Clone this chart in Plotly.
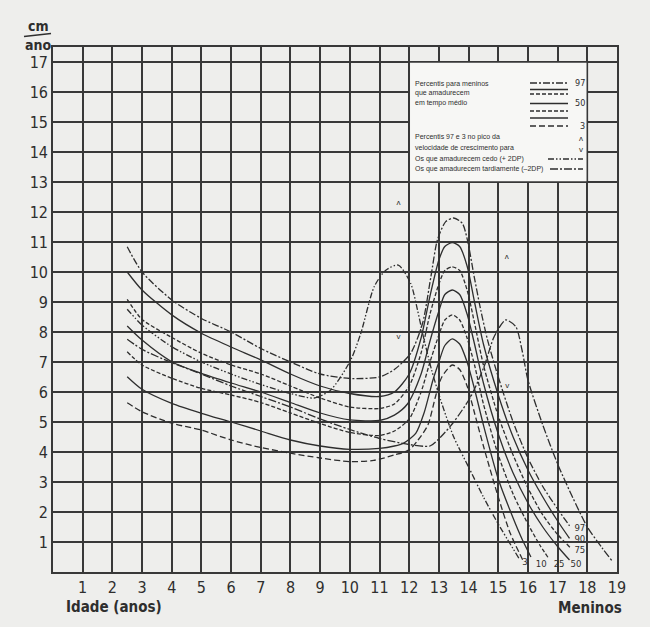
import plotly.graph_objects as go

# ---------------- data ----------------
age_ticks = list(range(1, 20))
vel_ticks = list(range(1, 18))

p97_x = [2.5, 3, 4, 5, 6, 7, 8, 9, 10, 11, 11.5, 12.05, 12.45, 12.73, 12.95, 13.23, 13.5, 13.79, 13.96, 14.19, 14.41, 14.64, 15.0, 15.5, 16.0, 16.5, 17.0, 17.4]
p97_y = [10.84, 10.0, 9.07, 8.45, 8.0, 7.45, 7.0, 6.6, 6.45, 6.5, 6.75, 7.29, 8.29, 9.84, 11.07, 11.68, 11.8, 11.62, 11.07, 9.84, 8.73, 7.73, 6.5, 5.0, 3.8, 2.85, 2.1, 1.54]

p90_x = [2.5, 3, 4, 5, 6, 7, 8, 9, 10, 11, 11.5, 12.0, 12.4, 12.7, 13.0, 13.2, 13.45, 13.7, 13.95, 14.2, 14.5, 15.0, 15.5, 16.0, 16.5, 17.0, 17.4]
p90_y = [10.0, 9.4, 8.57, 7.96, 7.5, 7.07, 6.6, 6.2, 5.95, 5.85, 6.0, 6.6, 7.8, 9.2, 10.4, 10.85, 10.98, 10.85, 10.2, 9.0, 7.6, 5.9, 4.5, 3.4, 2.5, 1.7, 1.12]

p75_x = [2.5, 3, 4, 5, 6, 7, 8, 9, 10, 11, 11.5, 12.0, 12.4, 12.7, 13.0, 13.2, 13.45, 13.7, 13.95, 14.2, 14.5, 15.0, 15.5, 16.0, 16.5, 17.0, 17.44]
p75_y = [9.09, 8.42, 7.82, 7.29, 6.9, 6.6, 6.2, 5.8, 5.5, 5.45, 5.6, 6.2, 7.3, 8.6, 9.6, 10.05, 10.17, 10.05, 9.4, 8.3, 6.9, 5.2, 3.9, 2.8, 1.9, 1.25, 0.8]

p50_x = [2.5, 3, 4, 5, 6, 7, 8, 9, 10, 11, 11.5, 11.94, 12.4, 12.7, 13.0, 13.2, 13.45, 13.7, 13.95, 14.2, 14.5, 15.0, 15.5, 16.0, 16.5, 17.0, 17.4]
p50_y = [8.2, 7.73, 7.01, 6.62, 6.3, 6.0, 5.65, 5.3, 5.07, 5.05, 5.23, 5.6, 6.6, 7.7, 8.7, 9.25, 9.4, 9.25, 8.6, 7.6, 6.3, 4.6, 3.3, 2.3, 1.5, 0.85, 0.4]

p25_x = [2.5, 3, 4, 5, 6, 7, 8, 9, 10, 11, 11.5, 12.0, 12.4, 12.7, 13.0, 13.2, 13.45, 13.7, 13.95, 14.2, 14.5, 15.0, 15.5, 16.0, 16.4, 16.7]
p25_y = [7.34, 6.9, 6.46, 6.12, 5.9, 5.65, 5.3, 4.95, 4.65, 4.55, 4.7, 5.1, 6.0, 7.0, 7.9, 8.4, 8.57, 8.4, 7.8, 6.9, 5.6, 3.9, 2.6, 1.6, 0.9, 0.45]

p10_x = [2.5, 3, 4, 5, 6, 7, 8, 9, 10, 11, 11.5, 11.8, 12.22, 12.5, 12.8, 13.0, 13.2, 13.45, 13.7, 13.95, 14.2, 14.5, 15.0, 15.5, 15.8, 16.1]
p10_y = [6.51, 6.09, 5.62, 5.29, 5.0, 4.7, 4.4, 4.2, 4.09, 4.12, 4.2, 4.29, 4.62, 5.3, 6.4, 7.0, 7.55, 7.77, 7.6, 7.0, 6.1, 4.9, 3.1, 1.8, 1.1, 0.5]

p3_x = [2.5, 3, 4, 5, 6, 7, 8, 9, 10, 10.8, 11.5, 12.0, 12.3, 12.63, 12.9, 13.1, 13.45, 13.7, 13.95, 14.2, 14.5, 15.0, 15.4, 15.85]
p3_y = [5.64, 5.34, 4.96, 4.73, 4.4, 4.15, 3.96, 3.8, 3.68, 3.72, 3.9, 4.07, 4.4, 4.9, 5.9, 6.5, 6.9, 6.75, 6.2, 5.3, 4.2, 2.5, 1.3, 0.35]

early_x = [2.5, 3, 4, 5, 6, 7, 8, 8.8, 9.36, 10.03, 10.37, 10.82, 11.2, 11.63, 12.05, 12.28, 12.45, 12.75, 13.06, 13.5, 14.0, 14.5, 15.0, 15.7]
early_y = [8.76, 8.23, 7.51, 7.0, 6.6, 6.25, 5.95, 5.8, 6.07, 7.07, 7.96, 9.51, 10.05, 10.23, 9.62, 8.73, 7.96, 6.75, 5.73, 4.5, 3.5, 2.5, 1.6, 0.45]

late_x = [2.5, 3, 4, 5, 6, 7, 8, 9, 10, 11, 12.0, 12.7, 13.06, 13.5, 14.07, 14.52, 14.86, 15.25, 15.59, 15.8, 16.0, 16.5, 17.0, 17.5, 18.0, 18.5, 18.85]
late_y = [7.76, 7.42, 6.98, 6.6, 6.2, 5.85, 5.5, 5.1, 4.75, 4.45, 4.25, 4.2, 4.5, 5.0, 5.84, 6.84, 7.84, 8.4, 8.18, 7.4, 6.4, 4.9, 3.6, 2.5, 1.5, 0.8, 0.35]

# peak-velocity markers (97th "ʌ" and 3rd "v") for early / late maturers
mark_x = [11.64, 15.29, 11.64, 15.3]
mark_y = [12.3, 10.5, 7.85, 6.2]
mark_t = ["ʌ", "ʌ", "v", "v"]

# percentile end labels
end_lab = ["97", "90", "75", "50", "25", "10", "3"]
end_x = [17.75, 17.75, 17.75, 17.62, 17.05, 16.45, 15.9]
end_y = [1.45, 1.08, 0.7, 0.23, 0.23, 0.23, 0.3]

# ---------------- styles ----------------
INK = "#2e2e2e"
BG = "#eeeeec"
NARROW = "Liberation Sans Narrow, DejaVu Sans Condensed, Arial Narrow, sans-serif"
D_97 = "7px,2px,2px,2px"
D_DASH = "4px,2px"
D_3 = "6px,3px"
D_EARLY = "6px,2px,1.5px,2px,1.5px,2px"
D_LATE = "8px,2px,2px,2px"

series = [
    (p97_x, p97_y, D_97, "97"),
    (p90_x, p90_y, "solid", "90"),
    (p75_x, p75_y, D_DASH, "75"),
    (p50_x, p50_y, "solid", "50"),
    (p25_x, p25_y, D_DASH, "25"),
    (p10_x, p10_y, "solid", "10"),
    (p3_x, p3_y, D_3, "3"),
    (early_x, early_y, D_EARLY, "cedo"),
    (late_x, late_y, D_LATE, "tarde"),
]

fig = go.Figure()
for xs, ys, dash, name in series:
    fig.add_trace(go.Scatter(
        x=xs, y=ys, mode="lines", name=name, showlegend=False,
        line=dict(color=INK, width=1.3, dash=dash, shape="spline", smoothing=0.7),
        hoverinfo="skip"))

fig.add_trace(go.Scatter(
    x=mark_x, y=mark_y, mode="text", text=mark_t, showlegend=False,
    textfont=dict(size=8, color=INK, family="Liberation Sans, sans-serif"), hoverinfo="skip"))

fig.add_trace(go.Scatter(
    x=end_x, y=end_y, mode="text", text=end_lab, showlegend=False,
    textfont=dict(size=9.5, color=INK, family=NARROW), hoverinfo="skip"))

# ---------------- layout ----------------
W, H = 650, 627
L, R, T, B = 53, 617, 47, 572

def px(xp):
    return (xp - L) / (R - L)

def py(yp):
    return (B - yp) / (B - T)

fig.update_layout(
    width=W, height=H,
    margin=dict(l=L, r=W - R, t=T, b=H - B),
    paper_bgcolor=BG, plot_bgcolor=BG,
    font=dict(family=NARROW, color=INK),
)
fig.update_xaxes(
    range=[0, 19], tickvals=age_ticks, ticktext=[str(v) for v in age_ticks],
    showgrid=True, gridcolor="#383838", gridwidth=1.6, zeroline=False,
    showline=True, linecolor="#383838", linewidth=1.6, mirror=True,
    ticks="", tickfont=dict(size=16, color=INK, family=NARROW), fixedrange=True)
fig.update_yaxes(
    range=[0, 17.5], tickvals=vel_ticks, ticktext=[str(v) for v in vel_ticks],
    showgrid=True, gridcolor="#383838", gridwidth=1.6, zeroline=False,
    showline=True, linecolor="#383838", linewidth=1.6, mirror=True,
    ticks="", tickfont=dict(size=16, color=INK, family=NARROW), fixedrange=True)

shapes = []
# legend box (covers grid)
shapes.append(dict(type="rect", xref="x", yref="y", x0=12, x1=18, y0=13, y1=17,
                   fillcolor="#f7f7f5", line=dict(color="#383838", width=1.6), layer="above"))

# legend line samples
def ldata(xp0, xp1, yp, dash):
    x0 = (xp0 - L) / (R - L) * 19
    x1 = (xp1 - L) / (R - L) * 19
    y = (B - yp) / (B - T) * 17.5
    shapes.append(dict(type="line", xref="x", yref="y", x0=x0, x1=x1, y0=y, y1=y,
                       line=dict(color=INK, width=1.3, dash=dash), layer="above"))

leg_y = [83, 89.5, 94, 103.5, 111, 118, 126]
leg_d = [D_97, "solid", D_DASH, "solid", D_DASH, "solid", D_3]
for yy, dd in zip(leg_y, leg_d):
    ldata(530, 568, yy, dd)
ldata(548, 583, 159, D_EARLY)
ldata(550, 583, 169, D_LATE)

# cm/ano fraction bar
shapes.append(dict(type="line", xref="paper", yref="paper",
                   x0=px(24), x1=px(51), y0=py(36.5), y1=py(33.5),
                   line=dict(color=INK, width=1.5)))
fig.update_layout(shapes=shapes)

ann = []
def txt(x, y, s, size, bold=False, xanchor="left", family="Liberation Sans, Arial, sans-serif"):
    ann.append(dict(xref="paper", yref="paper", x=px(x), y=py(y), text=("<b>%s</b>" % s) if bold else s,
                    showarrow=False, xanchor=xanchor, yanchor="middle",
                    font=dict(size=size, color=INK, family=family)))

legend_lines = [
    (84, "Percentis para meninos"),
    (93.5, "que amadurecem"),
    (103, "em tempo médio"),
    (137, "Percentis 97 e 3 no pico da"),
    (148, "velocidade de crescimento para"),
    (159, "Os que amadurecem cedo (+ 2DP)"),
    (169, "Os que amadurecem tardiamente (–2DP)"),
]
for yy, s in legend_lines:
    txt(413, yy, s, 7)
txt(573, 83, "97", 9, xanchor="left", family=NARROW)
txt(573, 103, "50", 9, xanchor="left", family=NARROW)
txt(578, 126, "3", 9, xanchor="left", family=NARROW)
txt(577, 138, "ʌ", 8, xanchor="left")
txt(577, 149, "v", 8, xanchor="left")

txt(38, 26, "cm", 14, bold=True, xanchor="center", family=NARROW)
txt(38, 45, "ano", 14, bold=True, xanchor="center", family=NARROW)
txt(64, 607, "Idade (anos)", 15, bold=True, xanchor="left", family=NARROW)
txt(624, 608, "Meninos", 15, bold=True, xanchor="right", family=NARROW)
fig.update_layout(annotations=ann)

fig.write_html("out.html")
